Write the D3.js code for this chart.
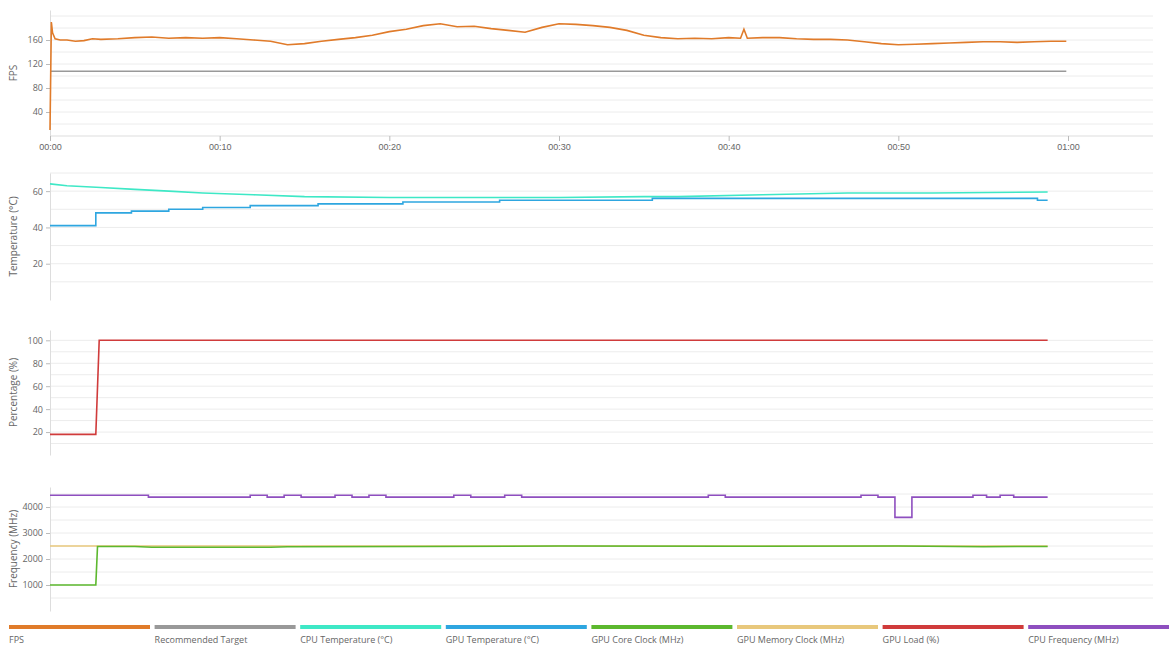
<!DOCTYPE html>
<html><head><meta charset="utf-8">
<script src="https://cdn.jsdelivr.net/npm/d3@7"></script>
<style>body{margin:0;background:#fff;font-family:"Open Sans",sans-serif}</style>
</head><body><svg id="c" width="1169" height="654"></svg>
<script>
// time in seconds
const fpsT = [0,0.08,0.15,0.3,0.6,1,1.5,2,2.5,3,4,5,6,7,8,9,10,11,12,13,14,15,16,17,18,19,20,21,22,23,24,25,26,27,28,29,30,31,32,33,34,35,36,37,38,39,40,40.7,40.9,41.1,42,43,44,45,46,47,48,49,50,51,52,53,54,55,56,57,58,59,59.9];
const fpsV = [10,190,172,162,160,160,158,159,162,161,162,164,165,163,164,163,164,162,160,158,152,154,158,161,164,168,174,178,184,187,182,183,179,176,173,181,187,186,184,181,176,168,164,162,163,162,164,163,178,163,164,164,162,161,161,160,157,154,152,153,154,155,156,157,157,156,157,158,158];
const targetV = 108;
const cpuTempT = [0,1,3,5,7,9,12,15,20,25,30,35,37,42,47,52,58.8];
const cpuTempV = [64,63,62,61,60,59,58,57,56.5,56.5,56.5,57,57,58,59,59,59.5];
const gpuTempT = [0,2.7,4.8,7,9,11.8,15.8,20.8,26.5,35.5,58.2,58.8];
const gpuTempV = [41,48,49,50,51,52,53,54,55,56,55,55];
const loadT = [0,2.7,2.9,58.8];
const loadV = [18,18,100,100];
const coreT = [0,2.7,2.8,5,6,13,14,22,30,40,50,55,57,58.8];
const coreV = [1000,1000,2480,2480,2450,2450,2470,2480,2500,2490,2500,2470,2480,2480];
const memT = [0,58.8];
const memV = [2500,2500];
const cpuFT = [0,5.8,11.8,12.8,13.8,14.8,16.8,17.8,18.8,19.8,23.8,24.8,26.8,27.8,30.2,31.8,38.8,39.8,47.8,48.8,49.8,50.8,51.4,54.4,55.2,56,56.8,57.4,58.8];
const cpuFV = [4450,4380,4450,4380,4450,4380,4450,4380,4450,4380,4450,4380,4450,4380,4380,4380,4450,4380,4450,4380,3600,4380,4380,4450,4380,4450,4380,4380,4380];
const xTicks = [0,10,20,30,40,50,60];
const legendNames = ["FPS","Recommended Target","CPU Temperature (°C)","GPU Temperature (°C)","GPU Core Clock (MHz)","GPU Memory Clock (MHz)","GPU Load (%)","CPU Frequency (MHz)"];
const colors = ["#e07b2a","#999999","#3ee8c6","#2ea6e0","#5cb82e","#e8c87c","#d03b3b","#8e4fbf"];

const svg = d3.select("#c");
const x = d3.scaleLinear().domain([0,60]).range([50,1068]);
const zip=(t,v)=>t.map((d,i)=>[d,v[i]]);

function panel(top,bottom,dom,ticks,grid,label,xaxis){
  const y=d3.scaleLinear().domain(dom).range([bottom,top]);
  const g=svg.append("g");
  g.selectAll(".gl").data(grid).join("line").attr("x1",50).attr("x2",1153)
   .attr("y1",d=>y(d)).attr("y2",d=>y(d)).attr("stroke","#ececec");
  const ax=g.append("g").attr("transform","translate(50,0)").call(d3.axisLeft(y).tickValues(ticks).tickSize(4).tickSizeOuter(0).tickFormat(d3.format("d")));
  ax.select(".domain").attr("stroke","#ddd");
  ax.selectAll("line").attr("stroke","#bbb");
  ax.selectAll("text").attr("fill","#666").style("font-size","9px").style("font-family","Open Sans");
  g.append("text").attr("transform",`translate(17,${(top+bottom)/2}) rotate(-90)`).attr("text-anchor","middle")
   .attr("fill","#666").style("font-size","10px").text(label);
  if(xaxis){
    const xa=g.append("g").attr("transform",`translate(0,${bottom})`).call(d3.axisBottom(x).tickValues(xTicks).tickSize(5).tickSizeOuter(0).tickFormat(d=>"0"+Math.floor(d/60)+":"+String(d%60).padStart(2,"0")));
    xa.select(".domain").attr("d",`M50,0H1153`).attr("stroke","#ddd");
    xa.selectAll("line").attr("stroke","#bbb");
    xa.selectAll("text").attr("fill","#666").style("font-size","9px");
  }
  return y;
}
function line(y,data,col,curve){
  svg.append("path").datum(data).attr("fill","none").attr("stroke",col).attr("stroke-width",1.6)
   .attr("d",d3.line().x(d=>x(d[0])).y(d=>y(d[1])).curve(curve||d3.curveLinear));
}
const y1=panel(10,136,[0,210],[40,80,120,160],[20,40,60,80,100,120,140,160,180,200],"FPS",true);
line(y1,[[0,targetV],[59.9,targetV]],colors[1]);
line(y1,zip(fpsT,fpsV),colors[0]);
const y2=panel(173,300,[0,70],[20,40,60],[10,20,30,40,50,60,70],"Temperature (°C)");
line(y2,zip(cpuTempT,cpuTempV),colors[2]);
line(y2,zip(gpuTempT,gpuTempV),colors[3],d3.curveStepAfter);
const y3=panel(330,455,[0,109],[20,40,60,80,100],[10,20,30,40,50,60,70,80,90,100],"Percentage (%)");
line(y3,zip(loadT,loadV),colors[6]);
const y4=panel(487,611,[0,4770],[1000,2000,3000,4000],[500,1000,1500,2000,2500,3000,3500,4000,4500],"Frequency (MHz)");
line(y4,zip(memT,memV),colors[5]);
line(y4,zip(coreT,coreV),colors[4]);
line(y4,zip(cpuFT,cpuFV),colors[7],d3.curveStepAfter);

const lg=svg.append("g");
legendNames.forEach((n,i)=>{
  const lx=9+i*145.6;
  lg.append("rect").attr("x",lx).attr("y",625).attr("width",141).attr("height",4).attr("fill",colors[i]);
  lg.append("text").attr("x",lx).attr("y",643).attr("fill","#666").style("font-size","9px").text(n);
});
</script></body></html>
